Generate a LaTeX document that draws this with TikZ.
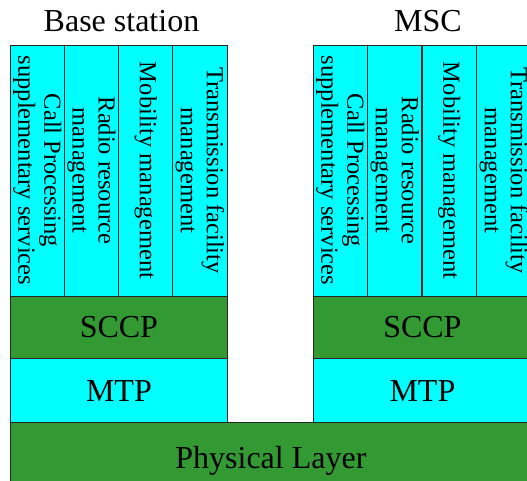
\documentclass[tikz,border=0pt]{standalone}
\usepackage{fontspec}
\setmainfont{Liberation Serif}
\definecolor{boxcyan}{RGB}{0,255,255}
\definecolor{boxgreen}{RGB}{51,153,51}
\begin{document}
\begin{tikzpicture}[x=1pt,y=1pt,
  layer/.style={draw=black!85, line width=0.8pt, inner sep=0pt, font=\fontsize{32}{34}\selectfont},
  cyanlayer/.style={layer, fill=boxcyan},
  greenlayer/.style={layer, fill=boxgreen},
  colbox/.style={draw=black!85, line width=0.8pt, fill=boxcyan, rotate=-90, inner sep=0pt,
     minimum width=251pt, minimum height=54.25pt, align=center,
     font=\fontsize{24.5}{26}\selectfont},
  title/.style={anchor=base, font=\fontsize{32}{34}\selectfont}]
\useasboundingbox (0,0) rectangle (527,480);
% physical layer
\node[greenlayer, minimum width=521pt, minimum height=76pt, anchor=south west] (phys) at (10,-19) {Physical Layer};
% left stack
\node[title] (bstitle) at (121.5,448) {Base station};
\node[cyanlayer, minimum width=217pt, minimum height=64pt, anchor=south west] (mtpL) at (10,57) {MTP};
\node[greenlayer, minimum width=217pt, minimum height=63pt, anchor=south west] (sccpL) at (10,121) {SCCP};
\node[colbox] (cpL) at (37.125,309.5) {Call Processing\\supplementary services};
\node[colbox] (rrL) at (91.375,309.5) {Radio resource\\management};
\node[colbox] (mmL) at (145.625,309.5) {Mobility management};
\node[colbox] (tfL) at (199.875,309.5) {Transmission facility\\management};
% right stack
\node[title] (msctitle) at (428,448) {MSC};
\node[cyanlayer, minimum width=218pt, minimum height=64pt, anchor=south west] (mtpR) at (313,57) {MTP};
\node[greenlayer, minimum width=218pt, minimum height=63pt, anchor=south west] (sccpR) at (313,121) {SCCP};
\node[colbox] (cpR) at (340.25,309.5) {Call Processing\\supplementary services};
\node[colbox] (rrR) at (394.75,309.5) {Radio resource\\management};
\node[colbox] (mmR) at (449.25,309.5) {Mobility management};
\node[colbox] (tfR) at (503.75,309.5) {Transmission facility\\management};
\end{tikzpicture}
\end{document}
